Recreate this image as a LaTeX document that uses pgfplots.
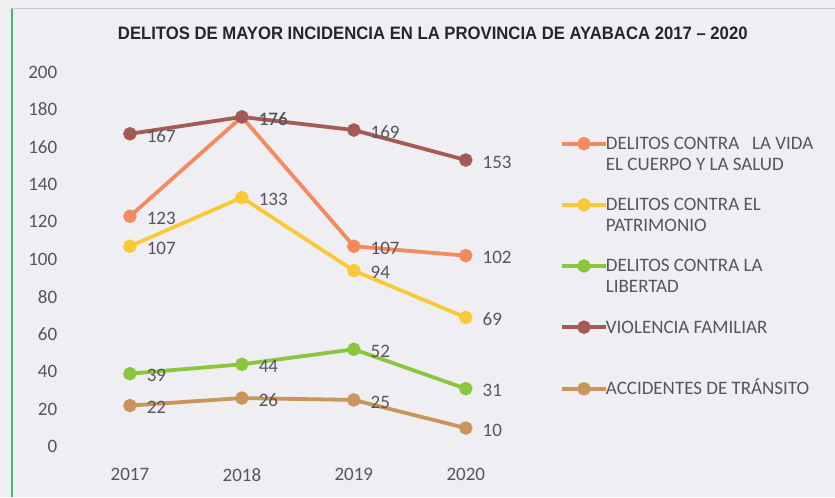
\documentclass[border=0pt]{standalone}
\usepackage{pgfplots}
\pgfplotsset{compat=1.18}
\usepackage{fontspec}
\setmainfont{Carlito}
\newfontfamily\titlefont{Liberation Sans}
\definecolor{bg}{HTML}{EFEFF3}
\definecolor{txt}{HTML}{55555A}
\definecolor{cvida}{HTML}{F38B5E}
\definecolor{cpatr}{HTML}{F9C93A}
\definecolor{clib}{HTML}{8CC63F}
\definecolor{cviol}{HTML}{A55A55}
\definecolor{cacc}{HTML}{C8965A}
\definecolor{frame}{HTML}{3DBB6E}
\pgfplotsset{/pgf/number format/assume math mode=true}
\begin{document}
\begin{tikzpicture}
\fill[bg] (0pt,0pt) rectangle (835pt,497pt);
\draw[frame, line width=1.5pt] (12pt,0pt) -- (12pt,489pt);
\draw[black!20, line width=0.8pt] (12pt,489pt) -- (835pt,489pt);
\node[font=\titlefont\bfseries\fontsize{18}{20}\selectfont, text=black!85] at (433pt,464pt)
  {\scalebox{0.928}[1]{DELITOS DE MAYOR INCIDENCIA EN LA PROVINCIA DE AYABACA 2017 – 2020}};
\begin{axis}[
  at={(62.8pt,50pt)}, anchor=south west,
  scale only axis, width=470.4pt, height=375pt,
  xmin=2016.4, xmax=2020.6, ymin=0, ymax=200,
  axis line style={draw=none}, tick style={draw=none},
  xtick={2017,2018,2019,2020}, xticklabels={2017,2018,2019,2020},
  ytick={0,20,...,200},
  ticklabel style={font=\fontsize{19}{22}\selectfont, text=txt},
  xticklabel style={yshift=-18pt},
  yticklabel style={xshift=-2pt},
  clip=false,
  every axis plot/.append style={line width=3.8pt, mark=*, mark size=4.8pt},
  nodes near coords,
  every node near coord/.append style={anchor=west, inner sep=0pt, xshift=15pt, yshift=-2pt, font=\fontsize{19}{22}\selectfont, text=txt},
  legend image code/.code={\draw[mark repeat=2,mark phase=2,#1] plot coordinates {(0pt,6pt) (22pt,6pt) (44pt,6pt)};},
  legend style={draw=none, fill=none, at={(1.051,0.845)}, anchor=north west, font=\fontsize{19}{22}\selectfont, text=txt, row sep=-0.5pt, column sep=-4pt, cells={anchor=base west, inner sep=0pt}},
]
\addplot[cvida] coordinates {(2017,123) (2018,176) (2019,107) (2020,102)};
\addlegendentry{\strut DELITOS CONTRA\ \ \ LA VIDA}
\addlegendimage{empty legend}
\addlegendentry{\strut EL CUERPO Y LA SALUD}
\addlegendimage{empty legend}
\addlegendentry{\strut}
\addplot[cpatr] coordinates {(2017,107) (2018,133) (2019,94) (2020,69)};
\addlegendentry{\strut DELITOS CONTRA EL}
\addlegendimage{empty legend}
\addlegendentry{\strut PATRIMONIO}
\addlegendimage{empty legend}
\addlegendentry{\strut}
\addplot[clib] coordinates {(2017,39) (2018,44) (2019,52) (2020,31)};
\addlegendentry{\strut DELITOS CONTRA LA}
\addlegendimage{empty legend}
\addlegendentry{\strut LIBERTAD}
\addlegendimage{empty legend}
\addlegendentry{\strut}
\addplot[cviol] coordinates {(2017,167) (2018,176) (2019,169) (2020,153)};
\addlegendentry{\strut VIOLENCIA FAMILIAR}
\addlegendimage{empty legend}
\addlegendentry{\strut}
\addlegendimage{empty legend}
\addlegendentry{\strut}
\addplot[cacc] coordinates {(2017,22) (2018,26) (2019,25) (2020,10)};
\addlegendentry{\strut ACCIDENTES DE TRÁNSITO}
\end{axis}
\end{tikzpicture}
\end{document}
